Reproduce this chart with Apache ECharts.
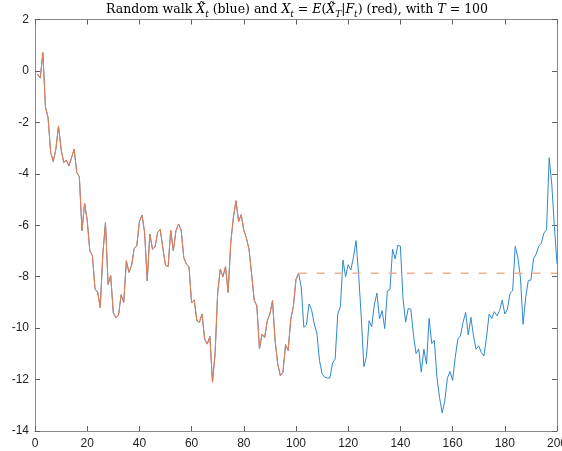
<!DOCTYPE html>
<html>
<head>
<meta charset="utf-8">
<style>
  html, body { margin: 0; padding: 0; background: #fff; }
  #chart { width: 562px; height: 451px; }
</style>
<script src="https://cdn.jsdelivr.net/npm/echarts@6/dist/echarts.min.js"></script>
</head>
<body>
<div id="chart"></div>
<script>
// Random walk sampled at steps 1..200
const walkValues = [
  -0.13, -0.28, 0.71, -1.40, -1.81, -3.17, -3.52, -3.04, -2.14, -3.04,
  -3.56, -3.47, -3.69, -3.37, -3.04, -3.95, -4.12, -6.21, -5.15, -5.80,
  -6.99, -7.18, -8.48, -8.60, -9.20, -7.10, -5.89, -8.30, -7.96, -9.40,
  -9.60, -9.50, -8.70, -9.00, -7.38, -7.83, -7.57, -6.90, -6.80, -5.86,
  -5.60, -6.28, -8.16, -6.34, -6.93, -6.84, -6.28, -6.16, -6.90, -7.55,
  -7.61, -6.20, -7.00, -6.21, -5.95, -6.19, -7.25, -7.51, -7.61, -9.02,
  -8.90, -9.71, -9.77, -9.45, -10.42, -10.62, -10.32, -12.10, -11.00, -8.61,
  -7.70, -8.00, -7.61, -8.61, -6.67, -5.70, -5.05, -5.86, -5.59, -6.19,
  -6.50, -6.93, -7.90, -8.93, -9.13, -10.81, -10.23, -10.36, -9.71, -9.45,
  -8.93, -10.49, -11.39, -11.85, -11.72, -10.64, -10.87, -9.65, -9.15, -8.10,
  -7.87, -8.40, -9.97, -9.87, -9.06, -9.30, -9.84, -10.19, -11.26, -11.78,
  -11.91, -11.94, -11.94, -11.36, -11.20, -9.45, -9.17, -7.35, -8.00, -7.53,
  -7.74, -7.25, -6.60, -7.90, -9.58, -11.50, -11.10, -9.71, -9.95, -9.10,
  -8.64, -9.64, -9.32, -10.02, -8.55, -8.50, -6.93, -7.31, -6.78, -6.82,
  -8.85, -9.77, -9.24, -9.26, -10.26, -10.99, -10.81, -11.71, -10.82, -11.40,
  -9.62, -10.60, -10.48, -11.92, -12.70, -13.30, -12.83, -11.95, -11.68, -12.03,
  -11.14, -10.43, -10.30, -9.78, -9.39, -10.27, -9.58, -10.30, -10.82, -10.69,
  -10.95, -11.08, -10.36, -9.45, -9.62, -9.36, -9.52, -9.32, -8.91, -9.45,
  -9.26, -8.65, -8.55, -6.82, -7.25, -8.05, -9.85, -8.81, -8.15, -8.13,
  -7.31, -7.12, -6.82, -6.70, -6.30, -6.18, -3.37, -4.40, -6.05, -7.51
];

// step index of each sample
const steps = walkValues.map((_, i) => i + 1);

// horizon T: the conditional expectation freezes once the walk reaches it
const horizonStep = 101;

const xTicks = { min: 0, max: 200, interval: 20 };
const yTicks = { min: -14, max: 2, interval: 2 };

const BLUE = '#3188cd';
const RED = '#ec7c4e';
const RED_DASH = '#f0ae92';

const walkData = steps.map((t, i) => [t, walkValues[i]]);
const martingaleData = walkData.filter(p => p[0] <= horizonStep);
const frozenValue = walkValues[steps.indexOf(horizonStep)];
const frozenData = [[horizonStep, frozenValue], [steps[steps.length - 1], frozenValue]];

const boxColor = '#8a8a8a';
const tickColor = '#606060';
const labelFont = 'Liberation Sans, Arial, sans-serif';

function axisBase(extra) {
  return Object.assign({
    type: 'value',
    axisLine: { show: true, onZero: false, lineStyle: { color: boxColor, width: 1 } },
    axisTick: { show: true, inside: true, length: 5, lineStyle: { color: tickColor, width: 1 } },
    splitLine: { show: false },
    axisLabel: { show: true, color: '#1e1e1e', fontSize: 12, fontFamily: labelFont }
  }, extra);
}

const chart = echarts.init(document.getElementById('chart'), null, { renderer: 'canvas' });

const serif = 'DejaVu Serif, Liberation Serif, serif';
const titleText =
  '{n|Random walk }{i|X\u0303}{s|t}{n| (blue) and }{i|X}{s|t}{n| = }{i|E}{n|(}' +
  '{i|X\u0303}{s|T}{n||}{i|F}{s|t}{n|) (red), with }{i|T}{n| = 100}';

chart.setOption({
  animation: false,
  backgroundColor: '#ffffff',
  grid: { left: 35, right: 5, top: 19.5, bottom: 20, containLabel: false, outerBoundsMode: 'none' },
  xAxis: [
    axisBase(Object.assign({ position: 'bottom', axisLabel: { show: true, margin: 7, color: '#1e1e1e', fontSize: 12, fontFamily: labelFont } }, xTicks)),
    axisBase(Object.assign({ position: 'top', axisLabel: { show: false } }, xTicks))
  ],
  yAxis: [
    axisBase(Object.assign({ position: 'left', axisLabel: { show: true, margin: 6, color: '#1e1e1e', fontSize: 12, fontFamily: labelFont } }, yTicks)),
    axisBase(Object.assign({ position: 'right', axisLabel: { show: false } }, yTicks))
  ],
  graphic: [{
    type: 'text',
    x: 297,
    y: 10,
    style: {
      text: titleText,
      align: 'center',
      verticalAlign: 'middle',
      rich: {
        n: { fontFamily: serif, fontSize: 12.5, color: '#111', lineHeight: 18 },
        i: { fontFamily: serif, fontSize: 12.5, fontStyle: 'italic', color: '#111', lineHeight: 18 },
        s: { fontFamily: serif, fontSize: 9, fontStyle: 'italic', color: '#111', lineHeight: 11, verticalAlign: 'bottom' }
      }
    }
  }],
  series: [
    {
      name: 'walk',
      type: 'line',
      xAxisIndex: 0, yAxisIndex: 0,
      data: walkData,
      showSymbol: false,
      lineStyle: { color: BLUE, width: 1 },
      itemStyle: { color: BLUE },
      z: 2
    },
    {
      name: 'martingale',
      type: 'line',
      xAxisIndex: 0, yAxisIndex: 0,
      data: martingaleData,
      showSymbol: false,
      lineStyle: { color: RED, width: 1 },
      itemStyle: { color: RED },
      z: 3
    },
    {
      name: 'frozen',
      type: 'line',
      xAxisIndex: 0, yAxisIndex: 0,
      data: frozenData,
      showSymbol: false,
      lineStyle: { color: RED_DASH, width: 1.5, type: [8, 10] },
      itemStyle: { color: RED_DASH },
      z: 3
    }
  ]
});
</script>
</body>
</html>
